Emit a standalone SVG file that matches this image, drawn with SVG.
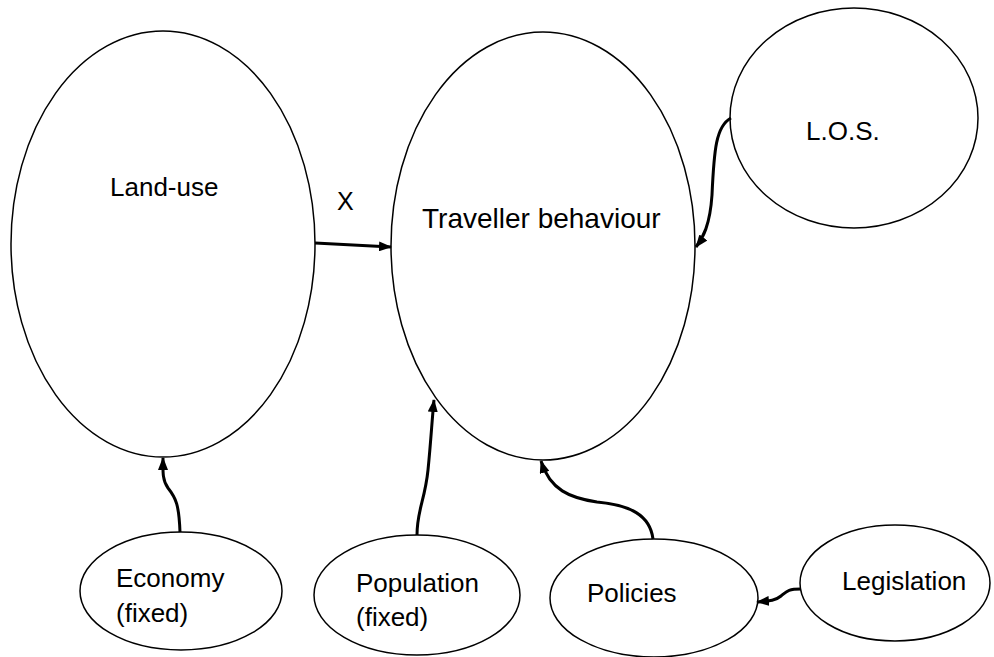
<svg xmlns="http://www.w3.org/2000/svg" width="994" height="657" viewBox="0 0 994 657">
<style>
.n{fill:#fff;stroke:#000;stroke-width:1.5}
.t{font-family:"Liberation Sans",Arial,sans-serif;font-size:26px;fill:#000}
.c{fill:none;stroke:#000;stroke-width:3}
</style>
<defs>
<marker id="ah" markerUnits="userSpaceOnUse" viewBox="0 0 13 10" markerWidth="13" markerHeight="10" refX="12" refY="5" orient="auto">
<path d="M0,0 L13,5 L0,10 z" fill="#000"/>
</marker>
</defs>
<rect width="994" height="657" fill="#fff"/>
<g id="land-use"><ellipse class="n" cx="163" cy="244" rx="152" ry="213"/><text class="t" x="110" y="196">Land-use</text></g>
<g id="traveller"><ellipse class="n" cx="543" cy="246" rx="152" ry="214"/><text class="t" x="422" y="228" style="font-size:28px">Traveller behaviour</text></g>
<g id="los"><ellipse class="n" cx="854" cy="118" rx="124" ry="110"/><text class="t" x="806" y="140">L.O.S.</text></g>
<g id="economy"><ellipse class="n" cx="181" cy="591" rx="101" ry="59"/><text class="t" x="116" y="587">Economy</text><text class="t" x="116" y="622">(fixed)</text></g>
<g id="population"><ellipse class="n" cx="417" cy="595" rx="103" ry="60"/><text class="t" x="356" y="592">Population</text><text class="t" x="356" y="626">(fixed)</text></g>
<g id="policies"><ellipse class="n" cx="654" cy="598" rx="104" ry="59"/><text class="t" x="587" y="602">Policies</text></g>
<g id="legislation"><ellipse class="n" cx="895" cy="583" rx="95" ry="58"/><text class="t" x="842" y="590">Legislation</text></g>
<g id="label-x"><text class="t" x="337" y="210" style="font-size:25px">X</text></g>
<g id="connectors">
<path class="c" d="M315,243 L391,247" marker-end="url(#ah)"/>
<path class="c" d="M731,118 C716,126 714,150 712,195 C710,225 703,238 696,247" marker-end="url(#ah)"/>
<path class="c" d="M180,532 C179,505 176,498 168,488 C162,480 163,470 163,458" marker-end="url(#ah)"/>
<path class="c" d="M417,535 C417,510 425,500 428,470 C431,440 432,420 434,400" marker-end="url(#ah)"/>
<path class="c" d="M653,539 C650,515 630,505 597,502 C570,498 550,490 541,461" marker-end="url(#ah)"/>
<path class="c" d="M801,589 C788,589 787,591 781,596 C775,601 768,601 757,602" marker-end="url(#ah)"/>
</g>
</svg>
